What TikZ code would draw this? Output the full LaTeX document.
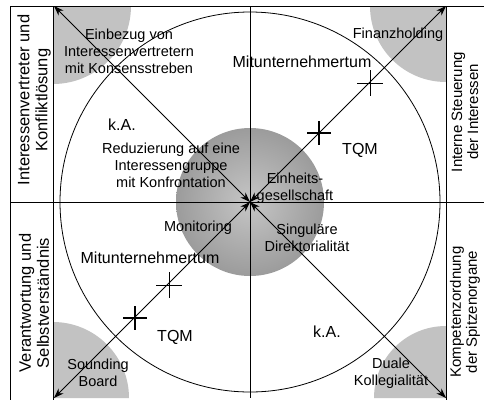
\documentclass[tikz,border=0pt]{standalone}
\usepackage{fontspec}
\setmainfont{Liberation Sans}
\usetikzlibrary{arrows.meta}
\begin{document}
\begin{tikzpicture}[x=1pt,y=-1pt,
  frame/.style={line width=0.8pt},
  arr/.style={line width=0.8pt,{Stealth[length=10pt,width=7pt]}-{Stealth[length=10pt,width=7pt]}},
  lbl/.style={font=\fontsize{14.5}{17}\selectfont,align=center,inner sep=0pt},
  big/.style={font=\fontsize{16}{18}\selectfont,inner sep=0pt},
  side/.style={font=\fontsize{16.5}{18}\selectfont,align=center,rotate=90,inner sep=0pt},
  rside/.style={font=\fontsize{15}{16}\selectfont,align=center,rotate=90,inner sep=0pt},
  corner/.style={fill=black!24},
  thin cross/.style={line width=0.6pt},
  thick cross/.style={line width=2pt}]
\useasboundingbox (0,0) rectangle (484,400);
% coordinates
\coordinate (C) at (250,202);
\coordinate (TL) at (54,6);
\coordinate (TR) at (446,6);
\coordinate (BL) at (54,398);
\coordinate (BR) at (446,398);
% corner quadrants
\fill[corner] (53,6) -- (131,6) .. controls (131,49) and (96,84) .. (53,84) -- cycle;
\fill[corner] (446,6) -- (370,6) .. controls (370,48) and (404,82) .. (446,82) -- cycle;
\fill[corner] (53,398) -- (129,398) .. controls (129,356) and (95,322) .. (53,322) -- cycle;
\fill[corner] (446,398) -- (374,398) .. controls (374,358) and (406,326) .. (446,326) -- cycle;
% big circle
\draw[frame] (C) circle[radius=190];
% sphere
\shade[inner color=gray!45,outer color=gray!78] (C) circle[radius=74];
% frame lines
\draw[frame] (10,6) -- (484,6);
\draw[frame] (10,6) -- (10,400);
\draw[frame] (53,6) -- (53,400);
\draw[frame] (446,6) -- (446,400);
\draw[frame] (10,202) -- (484,202);
\draw[frame] (250,6) -- (250,398);
% diagonal arrows
\draw[arr] (C) -- (TL);
\draw[arr] (C) -- (TR);
\draw[arr] (C) -- (BL);
\draw[arr] (C) -- (BR);
% crosses
\draw[thin cross] (357,83) -- (383,83) (370,70) -- (370,96);
\draw[thick cross] (307,133) -- (331,133) (319,121) -- (319,145);
\draw[thin cross] (156,285) -- (182,285) (169,272) -- (169,298);
\draw[thick cross] (123,318) -- (147,318) (135,306) -- (135,330);
% side texts
\node[side] (s1) at (34,100) {Interessenvertreter und\\Konfliktlösung};
\node[side] (s2) at (34,303) {Verantwortung und\\Selbstverständnis};
\node[rside] (s3) at (465,112) {Interne Steuerung\\der Interessen};
\node[rside] (s4) at (465,312) {Kompetenzordnung\\der Spitzenorgane};
% labels
\node[lbl] (einb) at (129,51) {Einbezug von\\Interessenvertretern\\mit Konsensstreben};
\node[lbl] (fin) at (398,35) {Finanzholding};
\node[big] (mit1) at (302,62) {Mitunternehmertum};
\node[big] (ka1) at (122,125) {k.A.};
\node[lbl] (red) at (171,165) {Reduzierung auf eine\\Interessengruppe\\mit Konfrontation};
\node[big] (tqm1) at (360,150) {TQM};
\node[lbl] (einh) at (295,188) {Einheits-\\gesellschaft};
\node[lbl] (mon) at (198,228) {Monitoring};
\node[lbl] (sing) at (307,238) {Singuläre\\Direktorialität};
\node[big] (mit2) at (150,258) {Mitunternehmertum};
\node[big] (tqm2) at (175,337) {TQM};
\node[lbl] (sb) at (98,373) {Sounding\\Board};
\node[big] (ka2) at (327,332) {k.A.};
\node[lbl] (dk) at (391,373) {Duale\\Kollegialität};
\end{tikzpicture}
\end{document}
